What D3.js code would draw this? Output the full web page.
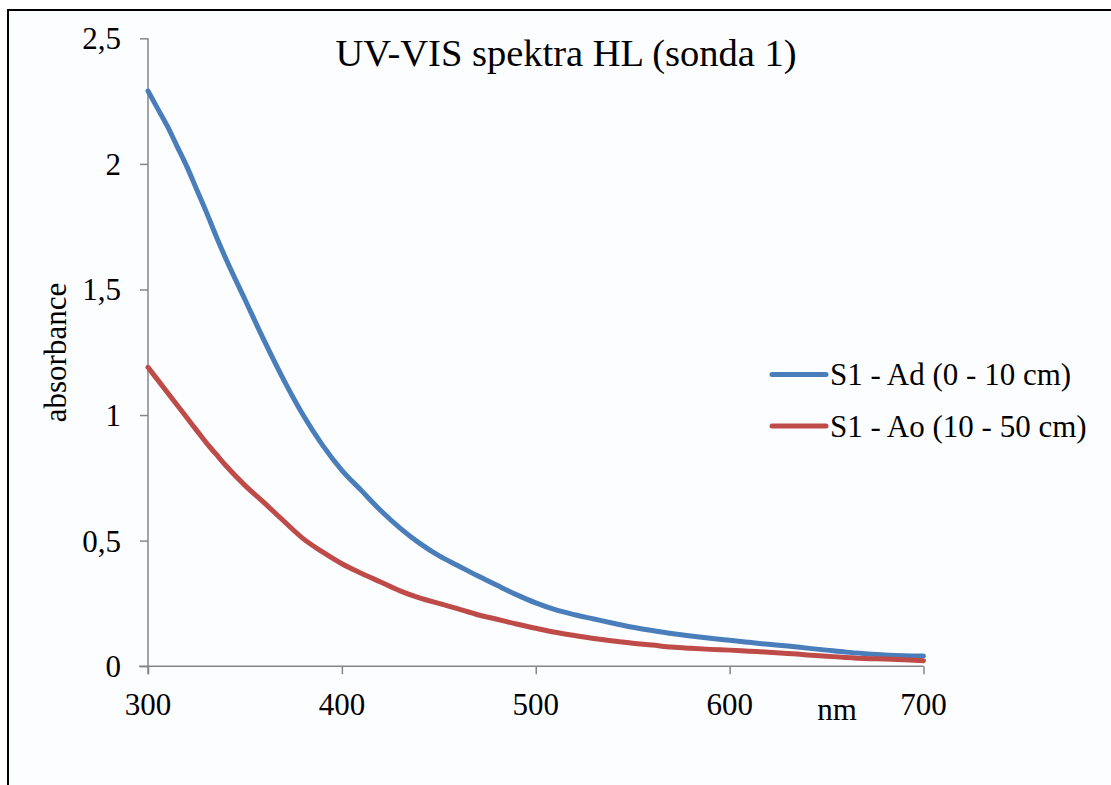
<!DOCTYPE html>
<html>
<head>
<meta charset="utf-8">
<script src="https://cdn.jsdelivr.net/npm/d3@7"></script>
<style>
  body { margin: 0; background: #fff; }
  svg text { font-family: "Liberation Serif", "Times New Roman", serif; fill: #000; }
</style>
</head>
<body>
<div id="chart"></div>
<script>

const wavelengths = [300, 305, 310, 315, 320, 325, 330, 335, 340, 350, 360, 370, 380, 390, 400,
  410, 420, 430, 440, 450, 460, 470, 480, 490, 500, 510, 520, 530, 540, 550, 560, 570, 580,
  590, 600, 610, 620, 630, 640, 650, 660, 670, 680, 690, 700];

const s1_ad = [2.29, 2.22, 2.15, 2.07, 1.99, 1.90, 1.81, 1.715, 1.625, 1.46, 1.295, 1.14, 1.0, 0.88, 0.78,
  0.70, 0.62, 0.55, 0.49, 0.44, 0.40, 0.36, 0.322, 0.285, 0.252, 0.225, 0.205, 0.188, 0.171, 0.155, 0.142, 0.13, 0.12,
  0.111, 0.103, 0.095, 0.087, 0.08, 0.072, 0.064, 0.056, 0.05, 0.045, 0.042, 0.041];

const s1_ao = [1.19, 1.14, 1.09, 1.04, 0.99, 0.94, 0.89, 0.845, 0.80, 0.72, 0.65, 0.578, 0.508, 0.455, 0.408,
  0.37, 0.335, 0.30, 0.272, 0.25, 0.228, 0.205, 0.187, 0.168, 0.151, 0.135, 0.122, 0.11, 0.10, 0.091, 0.084, 0.076, 0.071,
  0.067, 0.064, 0.06, 0.056, 0.051, 0.045, 0.04, 0.035, 0.031, 0.029, 0.026, 0.022];

const series_names = ['S1 - Ad (0 - 10 cm)', 'S1 - Ao (10 - 50 cm)'];
const series_colors = ['#4A7EBB', '#BE4B48'];

const x_ticks = [300, 400, 500, 600, 700];
const y_ticks = [0, 0.5, 1, 1.5, 2, 2.5];
const y_tick_labels = ['0', '0,5', '1', '1,5', '2', '2,5'];

const width = 1111;
const height = 785;

const svg = d3.select("#chart")
  .append("svg")
  .attr("width", width)
  .attr("height", height);

// chart area frame (runs off the right and bottom edges)
svg.append("rect")
  .attr("x", 8)
  .attr("y", 10)
  .attr("width", 1120)
  .attr("height", 800)
  .attr("fill", "#fcfdfe")
  .attr("stroke", "#000")
  .attr("stroke-width", 2);

const x = d3.scaleLinear().domain([300, 700]).range([148, 923.5]);
const y = d3.scaleLinear().domain([0, 2.5]).range([666.2, 38.3]);

// x axis
svg.append("g")
  .attr("transform", `translate(0,${y(0)})`)
  .call(d3.axisBottom(x).tickValues(x_ticks).tickSize(8).tickFormat(""))
  .call(g => g.selectAll("path, line").attr("stroke", "#868686").attr("stroke-width", 1.5))
  .call(g => g.select(".domain").attr("d", `M${x(300) - 9},0H${x(700)}`));

svg.append("g")
  .selectAll("text")
  .data(x_ticks)
  .join("text")
  .attr("x", d => x(d))
  .attr("y", 715)
  .attr("text-anchor", "middle")
  .attr("font-size", 31)
  .text(d => d);

// y axis
svg.append("g")
  .attr("transform", `translate(${x(300)},0)`)
  .call(d3.axisLeft(y).tickValues(y_ticks).tickSize(8).tickFormat(""))
  .call(g => g.selectAll("path, line").attr("stroke", "#868686").attr("stroke-width", 1.5))
  .call(g => g.select(".domain").attr("d", `M0,${y(2.5)}V${y(0) + 8}`));

svg.append("g")
  .selectAll("text")
  .data(y_ticks)
  .join("text")
  .attr("x", 121)
  .attr("y", d => y(d) + 11)
  .attr("text-anchor", "end")
  .attr("font-size", 31)
  .text((d, i) => y_tick_labels[i]);

// lines
const line = d3.line()
  .x((d, i) => x(wavelengths[i]))
  .y(d => y(d))
  .curve(d3.curveMonotoneX);

svg.append("g")
  .selectAll("path")
  .data([s1_ad, s1_ao])
  .join("path")
  .attr("fill", "none")
  .attr("stroke", (d, i) => series_colors[i])
  .attr("stroke-width", 5)
  .attr("stroke-linecap", "round")
  .attr("d", line);

// title and axis labels
svg.append("text")
  .attr("x", 566)
  .attr("y", 66)
  .attr("text-anchor", "middle")
  .attr("font-size", 38.5)
  .text("UV-VIS spektra HL (sonda 1)");

svg.append("text")
  .attr("transform", "translate(66,352.5) rotate(-90)")
  .attr("text-anchor", "middle")
  .attr("font-size", 31)
  .text("absorbance");

svg.append("text")
  .attr("x", 837)
  .attr("y", 720)
  .attr("text-anchor", "middle")
  .attr("font-size", 31)
  .text("nm");

// legend
svg.append("g")
  .selectAll("g")
  .data(series_names)
  .join("g")
  .attr("transform", (d, i) => `translate(772,${374.5 + i * 51.5})`)
  .call(g => g.append("line")
    .attr("x1", 0)
    .attr("x2", 54)
    .attr("stroke", (d, i) => series_colors[i])
    .attr("stroke-width", 5)
    .attr("stroke-linecap", "round"))
  .call(g => g.append("text")
    .attr("x", 58)
    .attr("y", 10.5)
    .attr("font-size", 31)
    .text(d => d));

</script>
</body>
</html>
